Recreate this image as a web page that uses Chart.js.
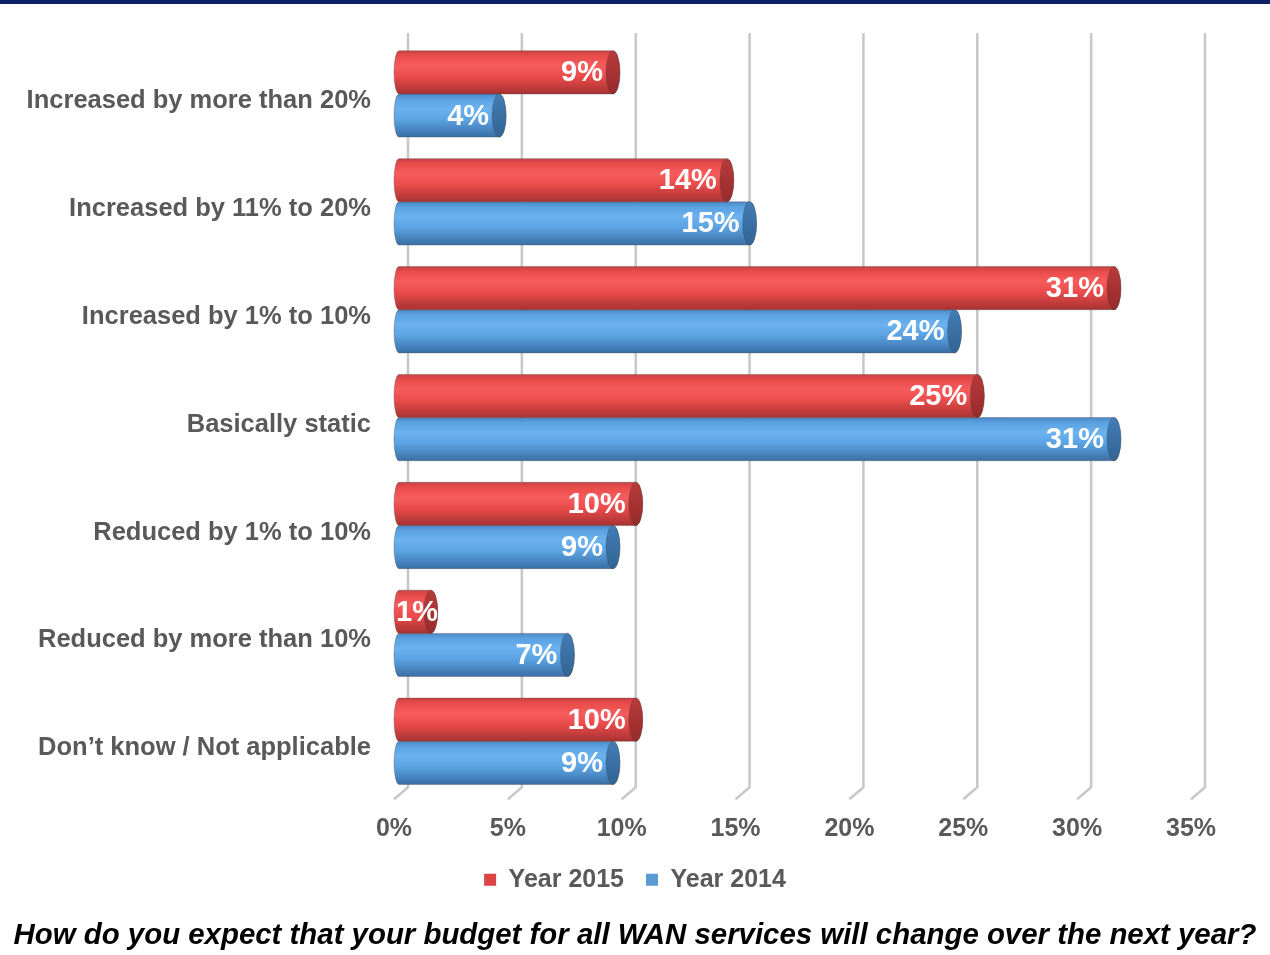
<!DOCTYPE html>
<html>
<head>
<meta charset="utf-8">
<title>WAN budget change</title>
<script src="https://cdn.jsdelivr.net/npm/chart.js@4.4.1/dist/chart.umd.min.js"></script>
<style>
  body { margin: 0; background: #fff; }
  #topline { height: 4px; background: #0b2163; }
  #wrap { position: relative; width: 1270px; height: 951px; }
</style>
</head>
<body>
<div id="topline"></div>
<div id="wrap"><canvas id="wanChart"></canvas></div>
<script>
"use strict";

var categories = [
    'Increased by more than 20%',
    'Increased by 11% to 20%',
    'Increased by 1% to 10%',
    'Basically static',
    'Reduced by 1% to 10%',
    'Reduced by more than 10%',
    'Don\u2019t know / Not applicable'
];
var year2015 = [9, 14, 31, 25, 10, 1, 10];
var year2014 = [4, 15, 24, 31, 9, 7, 9];
var xTicks = [0, 5, 10, 15, 20, 25, 30, 35];

var FONT = '"Liberation Sans", Arial, Helvetica, sans-serif';
var DEPTH = 14; // back wall offset for the gridlines and bar ends

// cylinder shading per series
var shades = [
    { edge: '#c94242', light: '#f65c5c', main: '#ea4b4b', dark: '#a83232', cap: '#b83a3a', capDark: '#962c2c' },
    { edge: '#4c88c6', light: '#6bb2ef', main: '#5aa2e2', dark: '#3a6fa6', cap: '#427db5', capDark: '#336494' }
];

function cylinderPath(ctx, x0, x1, y, h, lx, rx) {
    var top = y - h / 2, bot = y + h / 2;
    ctx.beginPath();
    ctx.moveTo(x0 + lx, top);
    ctx.lineTo(x1, top);
    ctx.ellipse(x1, y, rx, h / 2, 0, -Math.PI / 2, Math.PI / 2, false);
    ctx.lineTo(x0 + lx, bot);
    ctx.ellipse(x0 + lx, y, lx, h / 2, 0, Math.PI / 2, Math.PI * 1.5, false);
    ctx.closePath();
}

function drawCylinder(ctx, bar, col, label) {
    var h = bar.height, y = bar.y;
    var x0 = bar.base, x1 = bar.x + DEPTH, rx = 7, lx = 5;
    var top = y - h / 2, bot = y + h / 2;

    var g = ctx.createLinearGradient(0, top, 0, bot);
    g.addColorStop(0, col.edge);
    g.addColorStop(0.12, col.main);
    g.addColorStop(0.35, col.light);
    g.addColorStop(0.6, col.main);
    g.addColorStop(1, col.dark);

    cylinderPath(ctx, x0, x1, y, h, lx, rx);
    ctx.fillStyle = g;
    ctx.fill();
    ctx.strokeStyle = 'rgba(70,70,70,0.35)';
    ctx.lineWidth = 1;
    ctx.stroke();

    // end cap
    var cg = ctx.createLinearGradient(0, top, 0, bot);
    cg.addColorStop(0, col.cap);
    cg.addColorStop(1, col.capDark);
    ctx.beginPath();
    ctx.ellipse(x1, y, rx, h / 2, 0, 0, Math.PI * 2);
    ctx.fillStyle = cg;
    ctx.fill();
    ctx.strokeStyle = 'rgba(70,70,70,0.3)';
    ctx.stroke();

    // value label, kept inside the bar
    ctx.save();
    cylinderPath(ctx, x0, x1, y, h, lx, rx);
    ctx.clip();
    ctx.font = 'bold 29px ' + FONT;
    ctx.fillStyle = '#ffffff';
    ctx.textBaseline = 'middle';
    var w = ctx.measureText(label).width;
    if (w + 4 > x1 - x0) {
        ctx.textAlign = 'left';
        ctx.fillText(label, x0 + 2, y + 1);
    } else {
        ctx.textAlign = 'right';
        ctx.fillText(label, bar.x + 4, y + 1);
    }
    ctx.restore();
}

var cylinderBars = {
    id: 'cylinderBars',
    beforeDatasetsDraw: function(chart) {
        var ctx = chart.ctx, x = chart.scales.x, area = chart.chartArea;
        ctx.save();
        ctx.strokeStyle = '#c8c8c8';
        ctx.lineWidth = 2.5;
        ctx.lineJoin = 'round';
        x.ticks.forEach(function(t) {
            var px = x.getPixelForValue(t.value);
            ctx.beginPath();
            ctx.moveTo(px + DEPTH, area.top - 7);
            ctx.lineTo(px + DEPTH, area.bottom - 8);
            ctx.lineTo(px, area.bottom + 4);
            ctx.stroke();
        });
        ctx.restore();
    },
    beforeDatasetDraw: function(chart, args) {
        var ctx = chart.ctx;
        var ds = chart.data.datasets[args.index];
        ctx.save();
        args.meta.data.forEach(function(el, i) {
            var bar = el.getProps(['x', 'y', 'base', 'height'], true);
            drawCylinder(ctx, bar, shades[args.index], ds.data[i] + '%');
        });
        ctx.restore();
        return false;
    }
};

new Chart(document.getElementById('wanChart'), {
    type: 'bar',
    data: {
        labels: categories,
        datasets: [
            { label: 'Year 2015', data: year2015, backgroundColor: '#dc4444' },
            { label: 'Year 2014', data: year2014, backgroundColor: '#5b9bd5' }
        ]
    },
    options: {
        indexAxis: 'y',
        responsive: true,
        maintainAspectRatio: false,
        animation: false,
        categoryPercentage: 0.8,
        barPercentage: 1.0,
        layout: { padding: { top: 36, right: 0, left: 0, bottom: 0 } },
        scales: {
            x: {
                min: 0,
                max: 35,
                afterBuildTicks: function(scale) {
                    scale.ticks = xTicks.map(function(v) { return { value: v }; });
                },
                afterFit: function(scale) { scale.height = 50; },
                grid: { display: false },
                border: { display: false },
                ticks: {
                    padding: 11,
                    color: '#595959',
                    font: { family: FONT, size: 25, weight: 'bold' },
                    callback: function(v) { return v + '%'; }
                }
            },
            y: {
                afterFit: function(scale) {
                    scale.width = 394;
                    // labels sit inside their bands, no extra room above/below
                    scale.paddingTop = 0;
                    scale.paddingBottom = 0;
                },
                grid: { display: false, drawTicks: false },
                border: { display: false },
                ticks: {
                    padding: 23,
                    labelOffset: 7,
                    color: '#595959',
                    font: { family: FONT, size: 25.5, weight: 'bold' }
                }
            },
            // empty right-hand margin so the plot ends at 35%
            yPad: {
                type: 'linear',
                position: 'right',
                afterFit: function(scale) {
                    scale.width = 79;
                    scale.paddingTop = 0;
                    scale.paddingBottom = 0;
                },
                grid: { display: false },
                border: { display: false },
                ticks: { display: false }
            }
        },
        plugins: {
            tooltip: { enabled: false },
            legend: {
                position: 'bottom',
                labels: {
                    boxWidth: 12,
                    boxHeight: 12,
                    padding: 22,
                    color: '#595959',
                    font: { family: FONT, size: 25, weight: 'bold' }
                }
            },
            title: {
                display: true,
                position: 'bottom',
                text: 'How do you expect that your budget for all WAN services will change over the next year?',
                color: '#000000',
                padding: { top: 16, bottom: 1.5 },
                font: { family: FONT, size: 29.4, weight: 'bold', style: 'italic' }
            }
        }
    },
    plugins: [cylinderBars]
});
</script>
</body>
</html>
